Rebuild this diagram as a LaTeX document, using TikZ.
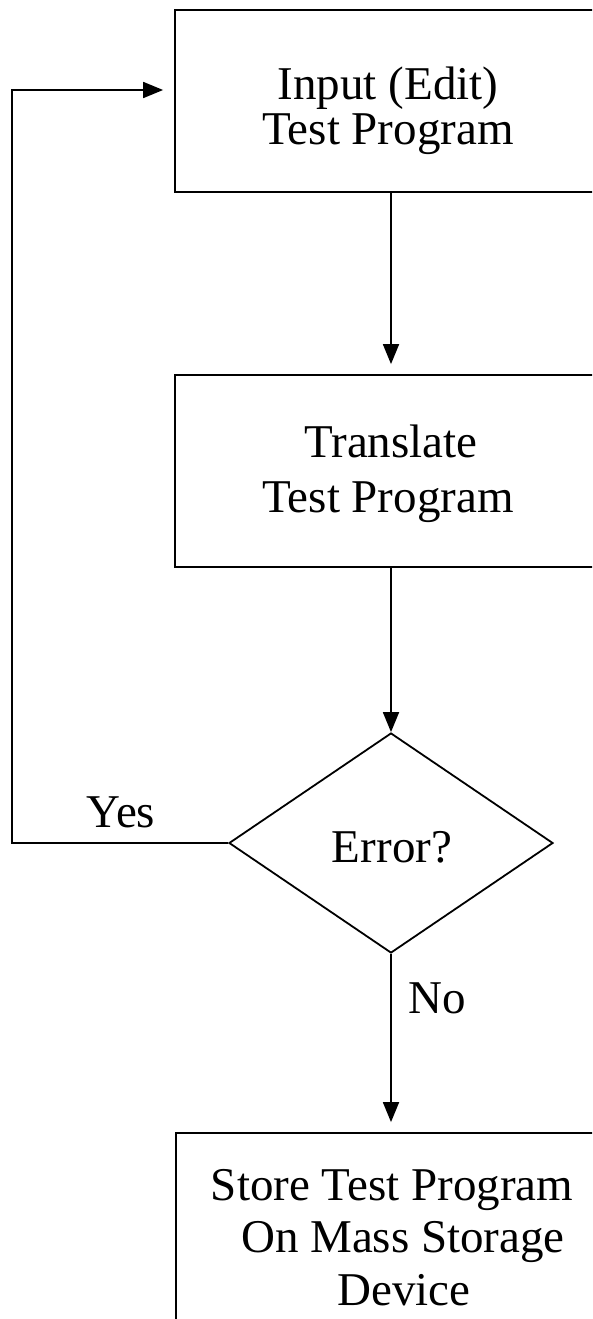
\documentclass[tikz,border=0pt]{standalone}
\usepackage{fontspec}
\setmainfont{Liberation Serif}
\usetikzlibrary{shapes.geometric,arrows.meta}
\begin{document}
\begin{tikzpicture}[x=1pt,y=-1pt,
  box/.style={draw, line width=1.8pt, rectangle, inner sep=0pt},
  decision/.style={draw, line width=1.8pt, diamond, inner sep=0pt,
    font=\fontsize{47}{52}\selectfont},
  conn/.style={line width=1.8pt, -{Triangle[length=20pt,width=16pt]}},
  lbl/.style={anchor=base, inner sep=0pt, font=\fontsize{47}{52}\selectfont}]
\useasboundingbox (0,0) rectangle (592,1319);
\clip (0,0) rectangle (592,1319);

% process boxes (their right sides run past the page edge)
\node[box, minimum width=427pt, minimum height=182pt] (b1) at (388.5,101) {};
\node[box, minimum width=427pt, minimum height=192pt] (b2) at (388.5,471) {};
\node[box, minimum width=426pt, minimum height=240pt] (b3) at (389,1253) {};

% decision
\node[decision, minimum width=324pt, minimum height=220pt] (d) at (391,843) {};
\node[lbl] (dq) at (392,862) {Error?};

% box texts
\node[lbl] (t1a) at (388,100) {Input (Edit)};
\node[lbl] (t1b) at (388,145) {Test Program};
\node[lbl] (t2a) at (391,457) {Translate};
\node[lbl] (t2b) at (388,512) {Test Program};
\node[lbl] (t3a) at (392,1200) {Store Test Program};
\node[lbl] (t3b) at (403,1252) {On Mass Storage};
\node[lbl] (t3c) at (404,1305) {Device};

% branch labels
\node[lbl] (yes) at (121,827) {Yes};
\node[lbl, anchor=base west] (no) at (408,1013) {No};

% connectors
\draw[conn, shorten >=10pt] (b1.south -| d.north) -- (b2.north -| d.north);
\draw[conn] (b2.south -| d.north) -- (d.north);
\draw[conn, shorten >=10pt] (d.south) -- (b3.north -| d.south);
\coordinate (lp) at (12,90);
\draw[conn, shorten >=11pt] (d.west) -| (lp) -- (lp -| b1.west);
\end{tikzpicture}
\end{document}
